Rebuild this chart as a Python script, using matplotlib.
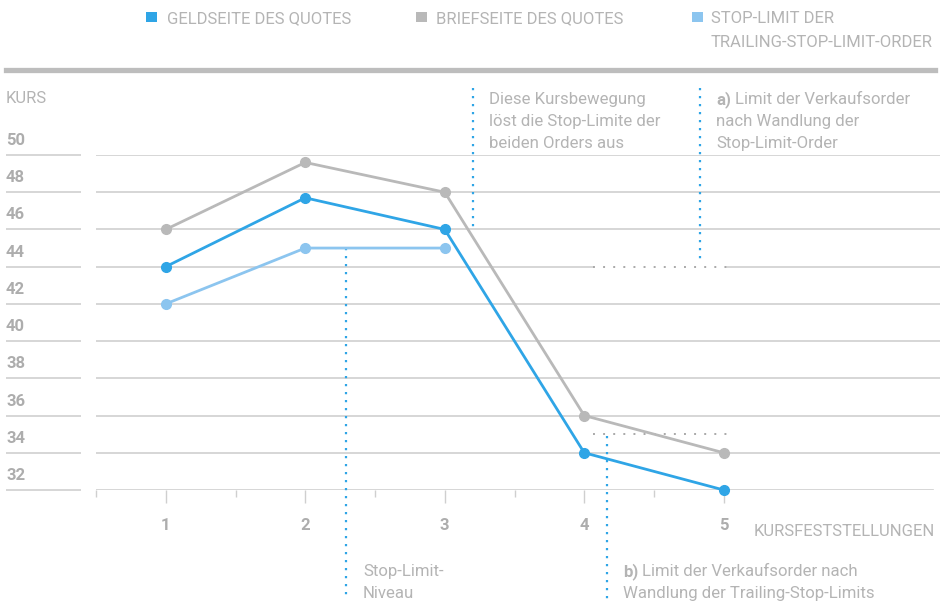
import matplotlib
matplotlib.use("Agg")
import matplotlib.pyplot as plt
from matplotlib.lines import Line2D
from matplotlib.patches import Rectangle

# data
steps = [1, 2, 3, 4, 5]
geld = [44, 47.7, 46, 34, 32]
brief = [46, 49.6, 48, 36, 34]
stop_steps = [1, 2, 3]
stop_limit = [42, 45, 45]
y_ticks = [32, 34, 36, 38, 40, 42, 44, 46, 48, 50]
limit_a = 44
limit_b = 35

BLUE = "#2fa5e6"
GREY = "#b9b9b9"
LIGHT = "#8cc5ef"
GRID = "#cfcfcf"
TXT = "#b4b4b4"
TICKTXT = "#adadad"

caps_font = dict(family=["Roboto", "DejaVu Sans"], fontsize=12.0)

W, H = 944, 611
fig = plt.figure(figsize=(W / 100, H / 100), dpi=100)
ax = fig.add_axes([96 / W, 1 - 490 / H, (940 - 96) / W, (490 - 155) / H])
ax.set_xlim(0.5, 0.5 + (940 - 96) / 139.5)
ax.set_ylim(32, 50)
for s in ax.spines.values():
    s.set_visible(False)

def fx(px):
    return px / W

def fy(py):
    return 1 - py / H

# gridlines
for v in y_ticks[1:]:
    if v == limit_a:
        ax.plot([0.5, 4.06], [v, v], color=GRID, lw=1.2, zorder=1)
        ax.plot([5.02, 6.55], [v, v], color=GRID, lw=1.2, zorder=1)
    else:
        ax.axhline(v, color=GRID, lw=1.2, zorder=1)
ax.plot([0.5, 6.5], [32, 32], color=GRID, lw=1.2, zorder=1)
ax.hlines(y_ticks, -0.145, 0.392, color=GRID, lw=1.2, clip_on=False)

# y labels
for v in y_ticks:
    ax.text(-0.145, v + 0.54, str(v), fontsize=12, fontweight="bold", color=TICKTXT,
            family="Roboto", va="baseline", ha="left")

# x ticks
ax.set_xticks(steps)
ax.set_xticklabels([str(s) for s in steps])
ax.set_xticks([0.5, 1.5, 2.5, 3.5, 4.5], minor=True)
ax.set_yticks([])
ax.tick_params(axis="x", which="major", length=9.5, width=1, color=GRID, pad=11,
               labelsize=12, labelcolor=TICKTXT)
ax.tick_params(axis="x", which="minor", length=5, width=1, color=GRID)
for lb in ax.get_xticklabels():
    lb.set_fontweight("bold")
    lb.set_family("Roboto")

# series
ax.plot(steps, brief, color=GREY, lw=2, marker="o", ms=7, zorder=3, clip_on=False)
ax.plot(stop_steps, stop_limit, color=LIGHT, lw=2, marker="o", ms=7, zorder=3, clip_on=False)
ax.plot(steps, geld, color=BLUE, lw=2, marker="o", ms=7, zorder=4, clip_on=False)

# dotted helper lines
dot_blue = dict(color=BLUE, lw=1.6, linestyle=(0, (1, 2.6)), clip_on=False, zorder=2)
dot_grey = dict(color="#a9a9a9", lw=1.4, linestyle=(0, (1, 4.2)), clip_on=False, zorder=2)
ax.plot([4.06, 5.02], [limit_a, limit_a], **dot_grey)
ax.plot([4.06, 5.02], [limit_b, limit_b], **dot_grey)
ax.plot([2.29, 2.29], [45, 26.1], **dot_blue)
ax.plot([3.2, 3.2], [53.6, 46.0], **dot_blue)
ax.plot([4.83, 4.83], [53.6, 44.2], **dot_blue)
ax.plot([4.16, 4.16], [34.9, 26.1], **dot_blue)

# top band
fig.add_artist(Line2D([fx(6), fx(935)], [fy(69.5), fy(69.5)], color="#bdbdbd", lw=3.8))

# legend
leg_font = dict(color=TXT, va="baseline", ha="left", **caps_font)
legend_items = [("GELDSEITE DES QUOTES", BLUE, 146, 167),
                ("BRIEFSEITE DES QUOTES", GREY, 416, 436),
                ("STOP-LIMIT DER", LIGHT, 692, 711)]
for label, col, sx, tx in legend_items:
    fig.add_artist(Rectangle((fx(sx), fy(22)), 11 / W, 10 / H, color=col, lw=0))
    fig.text(fx(tx), fy(23), label, **leg_font)
fig.text(fx(711), fy(47), "TRAILING-STOP-LIMIT-ORDER", **leg_font)

# axis titles
fig.text(fx(6), fy(103), "KURS", **leg_font)
fig.text(fx(935), fy(536), "KURSFESTSTELLUNGEN", **dict(leg_font, ha="right"))

# annotations
note = dict(family="Roboto", fontsize=12.1, color=TXT, va="baseline", ha="left")
for i, line in enumerate(["Diese Kursbewegung", "löst die Stop-Limite der", "beiden Orders aus"]):
    fig.text(fx(489), fy(104 + 22 * i), line, **note)
fig.text(fx(716), fy(104), "a)", fontweight="bold", **note)
fig.text(fx(735), fy(104), "Limit der Verkaufsorder", **note)
fig.text(fx(716), fy(126), "nach Wandlung der", **note)
fig.text(fx(716), fy(148), "Stop-Limit-Order", **note)
fig.text(fx(363), fy(576), "Stop-Limit-", **note)
fig.text(fx(363), fy(598), "Niveau", **note)
fig.text(fx(623), fy(576), "b)", fontweight="bold", **note)
fig.text(fx(642), fy(576), "Limit der Verkaufsorder nach", **note)
fig.text(fx(623), fy(598), "Wandlung der Trailing-Stop-Limits", **note)

fig.savefig("out.png", dpi=100)
